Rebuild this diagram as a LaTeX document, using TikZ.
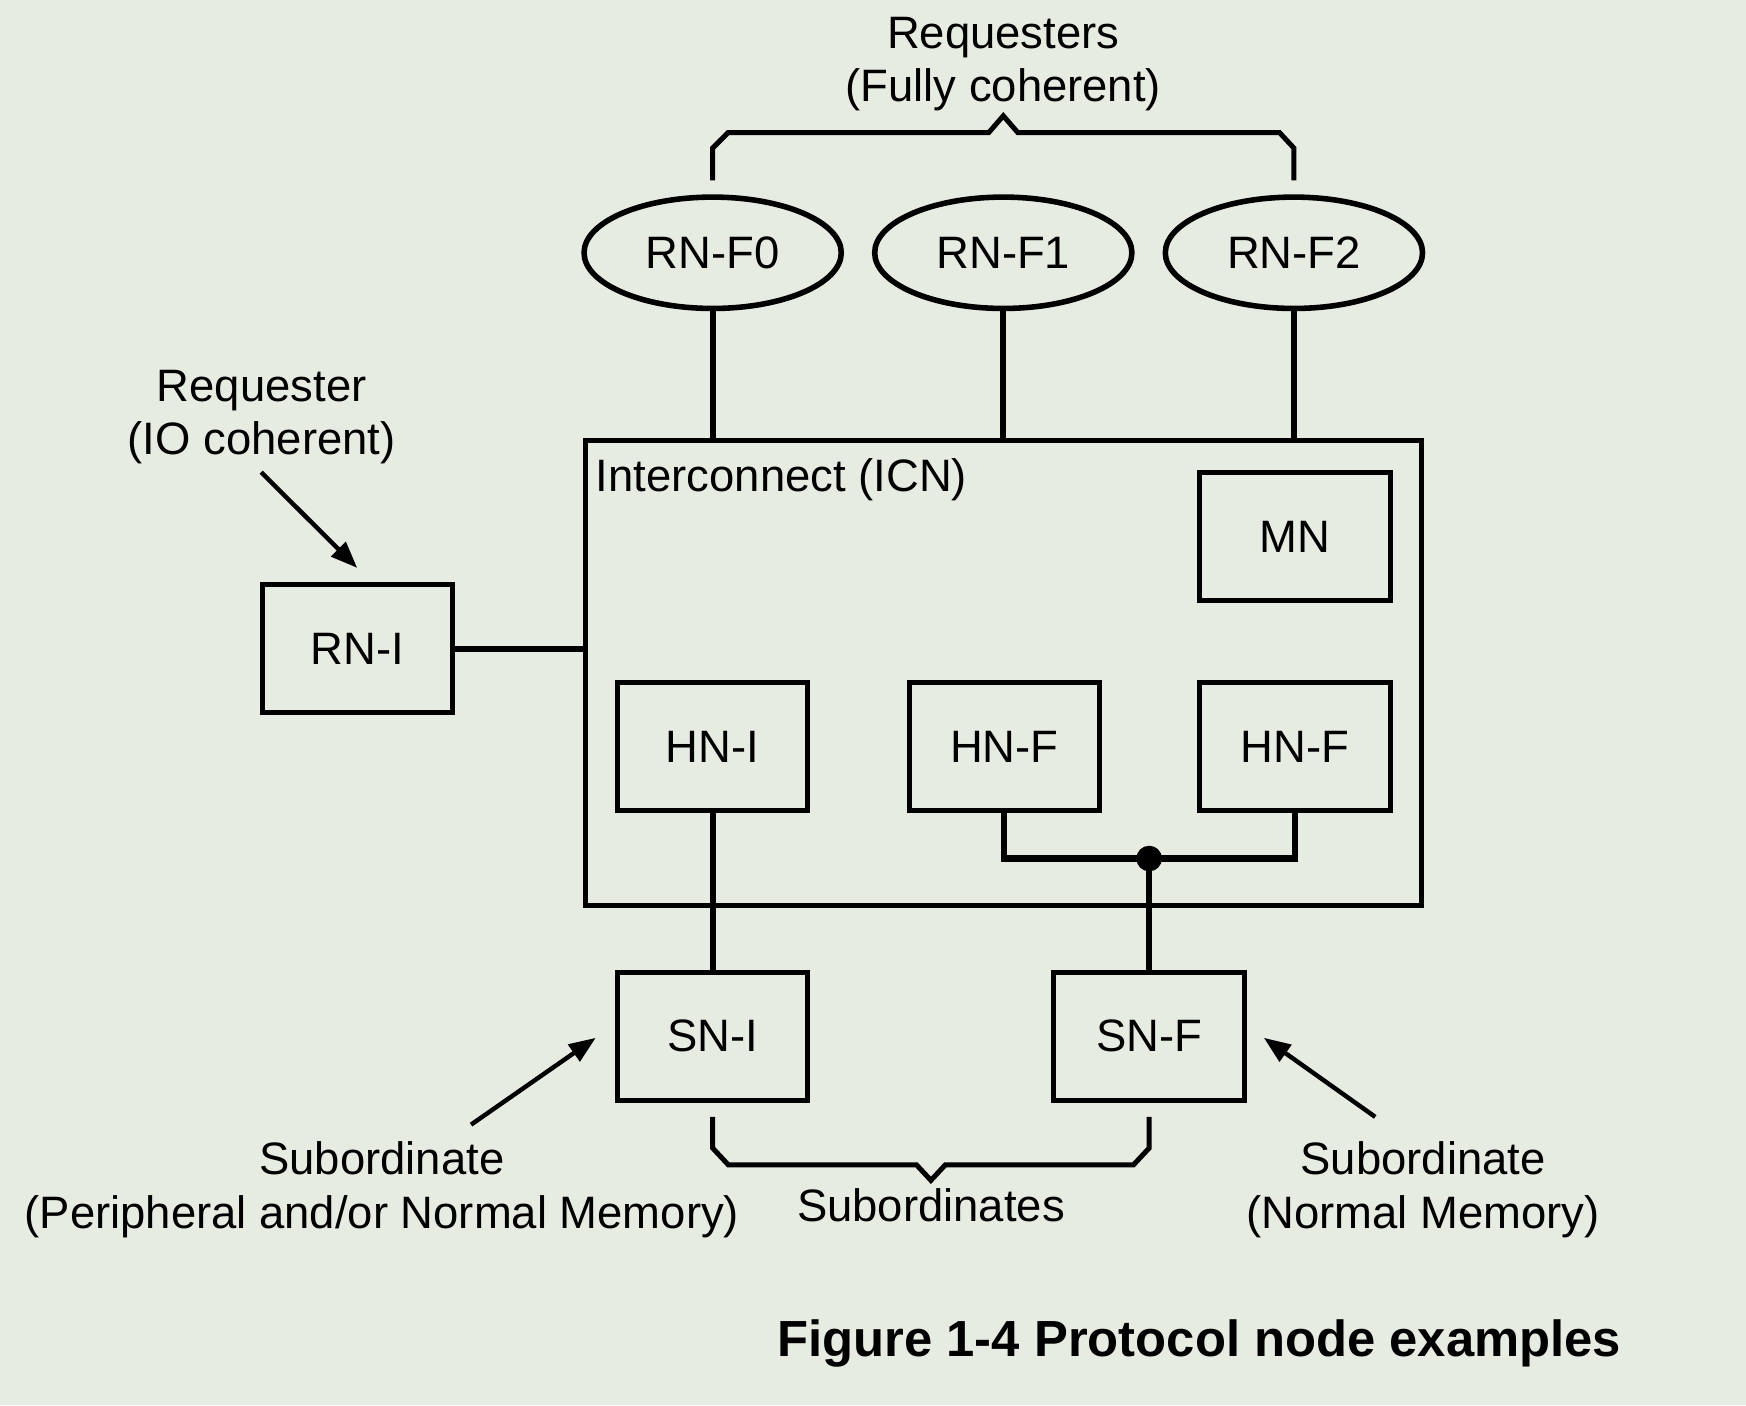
\documentclass[tikz,border=0pt]{standalone}
\usepackage{fontspec}
\setmainfont{Liberation Sans}
\usetikzlibrary{shapes.geometric,arrows.meta}
\definecolor{bgc}{RGB}{231,236,227}
\begin{document}
\begin{tikzpicture}[x=1pt,y=-1pt,
  lbl/.style={font=\fontsize{40.8}{48}\selectfont},
  box/.style={draw,line width=4.5pt,rectangle,minimum width=171pt,minimum height=115pt,inner sep=0pt,lbl},
  oval/.style={draw,line width=5pt,ellipse,minimum width=231pt,minimum height=100pt,inner sep=0pt,lbl},
  ann/.style={font=\fontsize{40.8}{48}\selectfont,inner sep=0pt,anchor=base},
  wire/.style={line width=5.5pt},
  brace/.style={line width=4.5pt,line join=miter},
  pointer/.style={line width=4pt,-{Triangle[length=24pt,width=18pt]}},
]
\useasboundingbox (0,0) rectangle (1568,1262);
\fill[bgc] (0,0) rectangle (1568,1262);

% requesters
\node[oval] (f0) at (640,227) {RN-F0};
\node[oval] (f1) at (901,227) {RN-F1};
\node[oval] (f2) at (1162,227) {RN-F2};

% interconnect
\node[draw,line width=4.5pt,minimum width=751pt,minimum height=417pt,inner sep=0pt] (icn) at (901,604.5) {};
\node[lbl,anchor=base west,inner sep=0pt] (icnlbl) at (535,441) {Interconnect (ICN)};
\node[box] (mn) at (1163,482) {MN};
\node[box] (hni) at (640,670.5) {HN-I};
\node[box] (hnf1) at (902,670.5) {HN-F};
\node[box] (hnf2) at (1163,670.5) {HN-F};

\node[box] (rni) at (321,582.5) {RN-I};
\node[box] (sni) at (640,930.5) {SN-I};
\node[box] (snf) at (1032,930.5) {SN-F};

% connectors
\draw[wire] (f0.south) -- (f0.south |- icn.north);
\draw[wire] (f1.south) -- (f1.south |- icn.north);
\draw[wire] (f2.south) -- (f2.south |- icn.north);
\draw[wire] (rni.east) -- (rni.east -| icn.west);
\draw[wire] (hni.south) -- (sni.north);
\coordinate (junc) at (1032,771);
\draw[wire] (hnf1.south) |- (junc) -| (hnf2.south);
\draw[wire] (junc) -- (snf.north);
\fill (junc) circle[radius=11.5pt];

% braces
\draw[brace] (640,162) -- (640,133) -- (654,119) -- (888,119) -- (901,104) -- (914,119) -- (1149,119) -- (1162,133) -- (1162,162);
\draw[brace] (640,1003) -- (640,1031) -- (654,1046) -- (823,1046) -- (836,1060) -- (849,1046) -- (1018,1046) -- (1032,1031) -- (1032,1003);

% annotations
\node[ann] (req1) at (901,43.4) {Requesters};
\node[ann] (req2) at (901,91.3) {(Fully coherent)};
\node[ann] (rqi1) at (235,361) {Requester};
\node[ann] (rqi2) at (235,408.6) {(IO coherent)};
\node[ann] (sbl1) at (343,1055) {Subordinate};
\node[ann] (sbl2) at (343,1103) {(Peripheral and/or Normal Memory)};
\node[ann] (sbs) at (836,1097) {Subordinates};
\node[ann] (sbr1) at (1278,1055) {Subordinate};
\node[ann] (sbr2) at (1278,1103) {(Normal Memory)};

\coordinate (rqa) at (234.5,424);
\coordinate (rqb) at (320.8,510);
\draw[pointer] (rqa) -- (rqb);
\coordinate (sla) at (423,1010);
\coordinate (slb) at (535,932);
\draw[pointer] (sla) -- (slb);
\coordinate (sra) at (1235,1003);
\coordinate (srb) at (1135,932);
\draw[pointer] (sra) -- (srb);

% caption
\node[font=\bfseries\fontsize{45.6}{55}\selectfont,anchor=base west,inner sep=0pt] (cap) at (698,1218.6) {Figure 1-4 Protocol node examples};
\end{tikzpicture}
\end{document}
